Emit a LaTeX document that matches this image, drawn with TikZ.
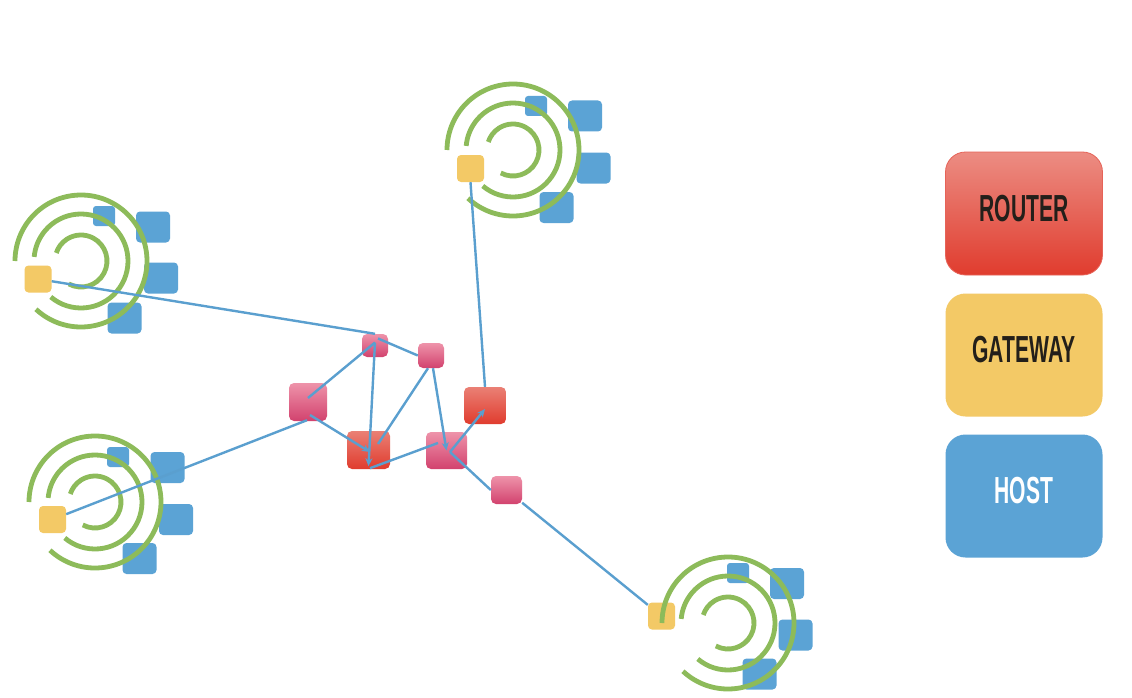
\documentclass[tikz,border=0pt]{standalone}
\usepackage{fontspec}
\usetikzlibrary{arrows.meta,calc}
\newfontfamily\legendfont[FakeStretch=0.56]{Liberation Sans}
\definecolor{arcgreen}{HTML}{8DBB5A}
\definecolor{hostblue}{HTML}{5BA3D5}
\definecolor{gwyellow}{HTML}{F3C966}
\definecolor{linkblue}{HTML}{5A9FCF}
\definecolor{pinktop}{HTML}{EE93AA}
\definecolor{pinkbot}{HTML}{D2426E}
\definecolor{redtop}{HTML}{EA8075}
\definecolor{redbot}{HTML}{E03C2E}
\definecolor{legdark}{HTML}{231F1A}
\tikzset{
  hostsmall/.style={fill=hostblue, rounded corners=3, inner sep=0, minimum width=22, minimum height=20},
  hostbig/.style={fill=hostblue, rounded corners=4, inner sep=0, minimum width=34, minimum height=31},
  gateway/.style={fill=gwyellow, rounded corners=4, inner sep=0, minimum width=27, minimum height=27},
  ring/.style={draw=arcgreen, line width=4.8},
  pinkr/.style={top color=pinktop, bottom color=pinkbot, rounded corners=5, inner sep=0},
  redr/.style={top color=redtop, bottom color=redbot, rounded corners=5, inner sep=0},
  link/.style={draw=linkblue, line width=2.4},
  linkarrow/.style={link, -{Stealth[length=8,width=7]}},
  legbox/.style={rounded corners=20, inner sep=0, minimum width=157, minimum height=123},
  legtext/.style={font=\legendfont\bfseries\fontsize{37.7}{40}\selectfont, inner sep=0}
}
\newcommand\drawrings[1]{%
  \draw[ring,shift={#1}] (133:66) arc[start angle=133,end angle=-180,radius=66];
  \draw[ring,shift={#1}] (130:47) arc[start angle=130,end angle=-175,radius=47];
  \draw[ring,shift={#1}] (118:26) arc[start angle=118,end angle=-162,radius=26];}
\begin{document}
\begin{tikzpicture}[x=1pt,y=-1pt]
\fill[white] (0,0) rectangle (1132,698);
\useasboundingbox (0,0) rectangle (1132,698);

% cluster top-left
\node[hostsmall] (tlA) at (104,216) {};
\node[hostbig] (tlB) at (153,227) {};
\node[hostbig] (tlC) at (161,278) {};
\node[hostbig] (tlD) at (124.5,318) {};
\node[gateway] (gwTL) at (38,279) {};
\drawrings{(81,261)}

% cluster top
\node[hostsmall] (tA) at (536,106) {};
\node[hostbig] (tB) at (585,116) {};
\node[hostbig] (tC) at (593.5,168) {};
\node[hostbig] (tD) at (556.5,207.5) {};
\node[gateway] (gwT) at (470.5,168.5) {};
\drawrings{(513,150)}

% cluster bottom-left
\node[hostsmall] (blA) at (118,457) {};
\node[hostbig] (blB) at (167.5,467.5) {};
\node[hostbig] (blC) at (176,519.5) {};
\node[hostbig] (blD) at (139.5,558.5) {};
\node[gateway] (gwBL) at (52.5,519.5) {};
\drawrings{(95,502)}

% cluster bottom-right
\node[hostsmall] (brA) at (738,573) {};
\node[hostbig] (brB) at (787,583.5) {};
\node[hostbig] (brC) at (795.5,635) {};
\node[hostbig] (brD) at (759.5,674) {};
\node[gateway] (gwBR) at (661.5,616) {};
\drawrings{(728,623)}

% routers
\node[pinkr, minimum width=26, minimum height=23] (P1) at (375,345.5) {};
\node[pinkr, minimum width=26, minimum height=25] (P2) at (431,355.5) {};
\node[pinkr, minimum width=38, minimum height=38] (P3) at (308,402) {};
\node[redr, minimum width=43, minimum height=38] (R1) at (368.5,450) {};
\node[pinkr, minimum width=41, minimum height=37] (P4) at (446.5,450.5) {};
\node[redr, minimum width=42, minimum height=37] (R2) at (485,405.5) {};
\node[pinkr, minimum width=31, minimum height=28] (P5) at (506.5,490) {};

% links
\draw[link] (gwTL) -- (P1.north);
\draw[link] ($(P1.center)+(3,-7)$) -- (P2.west);
\draw[link] ($(P3.center)+(0,-4)$) -- ($(P1.center)+(0,-3)$);
\draw[linkarrow] ($(P1.center)+(0,-3)$) -- ($(R1.south)+(0,-3)$);
\draw[linkarrow] ($(P3.center)+(2,13)$) -- ($(R1.center)+(1.5,2)$);
\draw[link] ($(P2.south)+(-3,0)$) -- ($(R1.center)+(9.5,-6)$);
\draw[linkarrow] ($(P2.south)+(2,0)$) -- (P4.center);
\draw[link] ($(P4.center)+(-8.5,-7.5)$) -- ($(R1.south)+(1.5,-1)$);
\draw[linkarrow] ($(P4.center)+(3.5,1.5)$) -- ($(R2.center)+(0,3.5)$);
\draw[link] ($(P4.center)+(3.5,1.5)$) -- (P5.west);
\draw[link] (P5) -- (gwBR);
\draw[link] ($(P3.south)+(-1,-1)$) -- (gwBL);
\draw[link] (R2.north) -- (gwT.south);

% legend
\node[legbox, top color=redtop!90!white, bottom color=redbot, draw=redbot!80!white, line width=0.8] (legR) at (1024,213.5) {};
\node[legtext, text=legdark] at ([yshift=5pt]legR.center) {ROUTER};
\node[legbox, fill=gwyellow] (legG) at (1024,355) {};
\node[legtext, text=legdark] at ([yshift=5pt]legG.center) {GATEWAY};
\node[legbox, fill=hostblue] (legH) at (1024,496) {};
\node[legtext, text=white] at ([yshift=5pt]legH.center) {HOST};
\end{tikzpicture}
\end{document}
